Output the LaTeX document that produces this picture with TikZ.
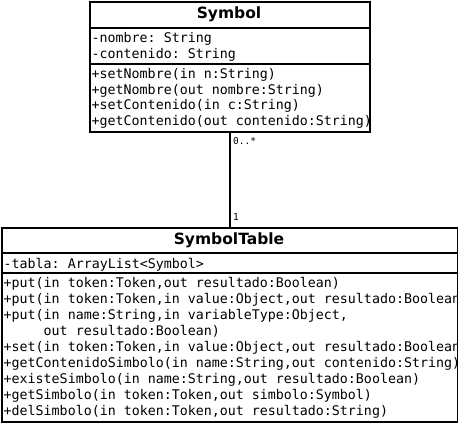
\documentclass[tikz,border=0pt]{standalone}
\usepackage{fontspec}
\setmonofont{DejaVu Sans Mono}
\newfontfamily\titlefont{DejaVu Sans}
\begin{document}
\begin{tikzpicture}[x=1pt,y=-1pt,
  umlbox/.style={draw, rectangle, inner sep=0pt, anchor=north west, line width=1.6pt},
  sepline/.style={line width=1.6pt},
  mono/.style={font=\ttfamily\fontsize{13.3}{15}\selectfont, inner sep=0pt, anchor=base west},
  umltitle/.style={font=\titlefont\bfseries\fontsize{15.5}{18}\selectfont, inner sep=0pt},
  mult/.style={font=\ttfamily\fontsize{9.5}{10}\selectfont, inner sep=0pt, anchor=west},
  assoc/.style={line width=1.6pt}]
\useasboundingbox (0,0) rectangle (458,423);
% Symbol class
\node[umlbox, minimum width=280pt, minimum height=130pt] (sym) at (89,1) {};
\draw[sepline] (89,28) -- (369,28);
\draw[sepline] (89,64) -- (369,64);
\node[umltitle] (symt) at (229,14.5) {Symbol};
\begin{scope}
\clip (sym.north west) rectangle (sym.south east);
\node[mono] (sa1) at (91.5,42.5) {-nombre: String};
\node[mono] (sa2) at (91.5,58.5) {-contenido: String};
\node[mono] (sm1) at (91.5,78.5) {+setNombre(in n:String)};
\node[mono] (sm2) at (91.5,94.2) {+getNombre(out nombre:String)};
\node[mono] (sm3) at (91.5,109.9) {+setContenido(in c:String)};
\node[mono] (sm4) at (91.5,125.6) {+getContenido(out contenido:String)};
\end{scope}
% SymbolTable class
\node[umlbox, minimum width=456pt, minimum height=194pt] (tab) at (1,227) {};
\draw[sepline] (1,253) -- (457,253);
\draw[sepline] (1,273) -- (457,273);
\node[umltitle] (tabt) at (229,240.5) {SymbolTable};
\begin{scope}
\clip (tab.north west) rectangle (tab.south east);
\node[mono] (ta1) at (3.5,268.5) {-tabla: ArrayList<Symbol>};
\node[mono] (tm1) at (3.5,287.5) {+put(in token:Token,out resultado:Boolean)};
\node[mono] (tm2) at (3.5,303.5) {+put(in token:Token,in value:Object,out resultado:Boolean)};
\node[mono] (tm3) at (3.5,319.5) {+put(in name:String,in variableType:Object,};
\node[mono] (tm3b) at (3.5,335.5) {\ \ \ \ \ out resultado:Boolean)};
\node[mono] (tm4) at (3.5,351.5) {+set(in token:Token,in value:Object,out resultado:Boolean)};
\node[mono] (tm5) at (3.5,367.5) {+getContenidoSimbolo(in name:String,out contenido:String)};
\node[mono] (tm6) at (3.5,383.5) {+existeSimbolo(in name:String,out resultado:Boolean)};
\node[mono] (tm7) at (3.5,399.5) {+getSimbolo(in token:Token,out simbolo:Symbol)};
\node[mono] (tm8) at (3.5,415.5) {+delSimbolo(in token:Token,out resultado:String)};
\end{scope}
% association
\draw[assoc] (sym.south) -- (tab.north);
\node[mult] (m1) at (233,141) {0..*};
\node[mult] (m2) at (233,217) {1};
\end{tikzpicture}
\end{document}
